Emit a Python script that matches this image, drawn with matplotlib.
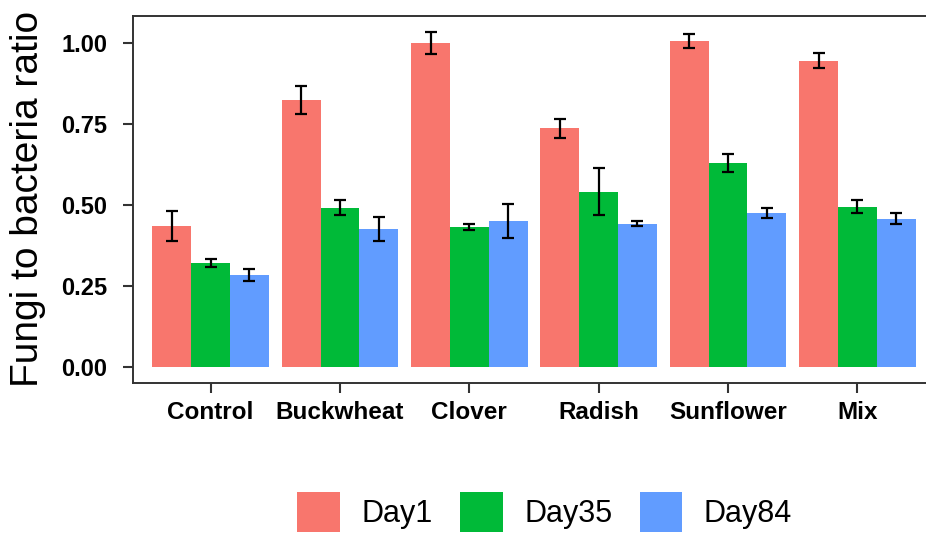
import numpy as np
import matplotlib
matplotlib.use("Agg")
import matplotlib.pyplot as plt
from matplotlib.patches import Patch

plt.rcParams['font.family'] = ['Liberation Sans', 'DejaVu Sans']

crops = ["Control", "Buckwheat", "Clover", "Radish", "Sunflower", "Mix"]
days = ["Day1", "Day35", "Day84"]
colors = ["#F8766D", "#00BA38", "#619CFF"]

day1 = [0.436, 0.824, 0.999, 0.736, 1.006, 0.945]
day35 = [0.321, 0.492, 0.432, 0.541, 0.629, 0.495]
day84 = [0.285, 0.427, 0.451, 0.443, 0.475, 0.458]

day1_err = [0.047, 0.044, 0.033, 0.029, 0.021, 0.023]
day35_err = [0.012, 0.023, 0.009, 0.073, 0.027, 0.021]
day84_err = [0.018, 0.037, 0.051, 0.009, 0.015, 0.017]

W, H = 926, 533
fig = plt.figure(figsize=(W / 100, H / 100), dpi=100)
# axes in pixel coords: left 133, right 935 (cropped), top 15.7, bottom 382.7
ax = fig.add_axes([133 / W, 1 - 382.7 / H, (935 - 133) / W, (382.7 - 15.7) / H])

x = np.arange(1, len(crops) + 1)
bw = 0.3
series = [(day1, day1_err), (day35, day35_err), (day84, day84_err)]
for i, (vals, errs) in enumerate(series):
    pos = x + (i - 1) * bw
    ax.bar(pos, vals, width=bw, color=colors[i], edgecolor='none', zorder=2)
    ax.errorbar(pos, vals, yerr=errs, fmt='none', ecolor='black',
                elinewidth=1.6, capsize=4.6, capthick=1.6, zorder=3)

ax.set_xlim(0.4, 6.6)
ax.set_ylim(-0.047, 1.083)
ax.set_xticks(x)
ax.set_xticklabels(crops, fontsize=17.5, fontweight='bold')
ax.set_yticks([0, 0.25, 0.5, 0.75, 1.0])
ax.set_yticklabels(["0.00", "0.25", "0.50", "0.75", "1.00"],
                   fontsize=17, fontweight='bold')
ax.tick_params(axis='both', length=7, width=1.5, color='#333333')
ax.tick_params(axis='x', pad=6)
ax.tick_params(axis='y', pad=11.5)
for s in ax.spines.values():
    s.set_color('#333333')
    s.set_linewidth(1.4)

ax.set_ylabel("Fungi to bacteria ratio", fontsize=28)
ax.yaxis.set_label_coords(-0.108, 0.5)

handles = [Patch(facecolor=c, edgecolor='none', label=d) for c, d in zip(colors, days)]
fig.legend(handles=handles, loc='center', bbox_to_anchor=(0.588, 0.04), ncol=3,
           frameon=False, fontsize=22, handlelength=1.4, handleheight=1.65,
           handletextpad=0.7, columnspacing=0.9)

fig.savefig("out.png", dpi=100)
